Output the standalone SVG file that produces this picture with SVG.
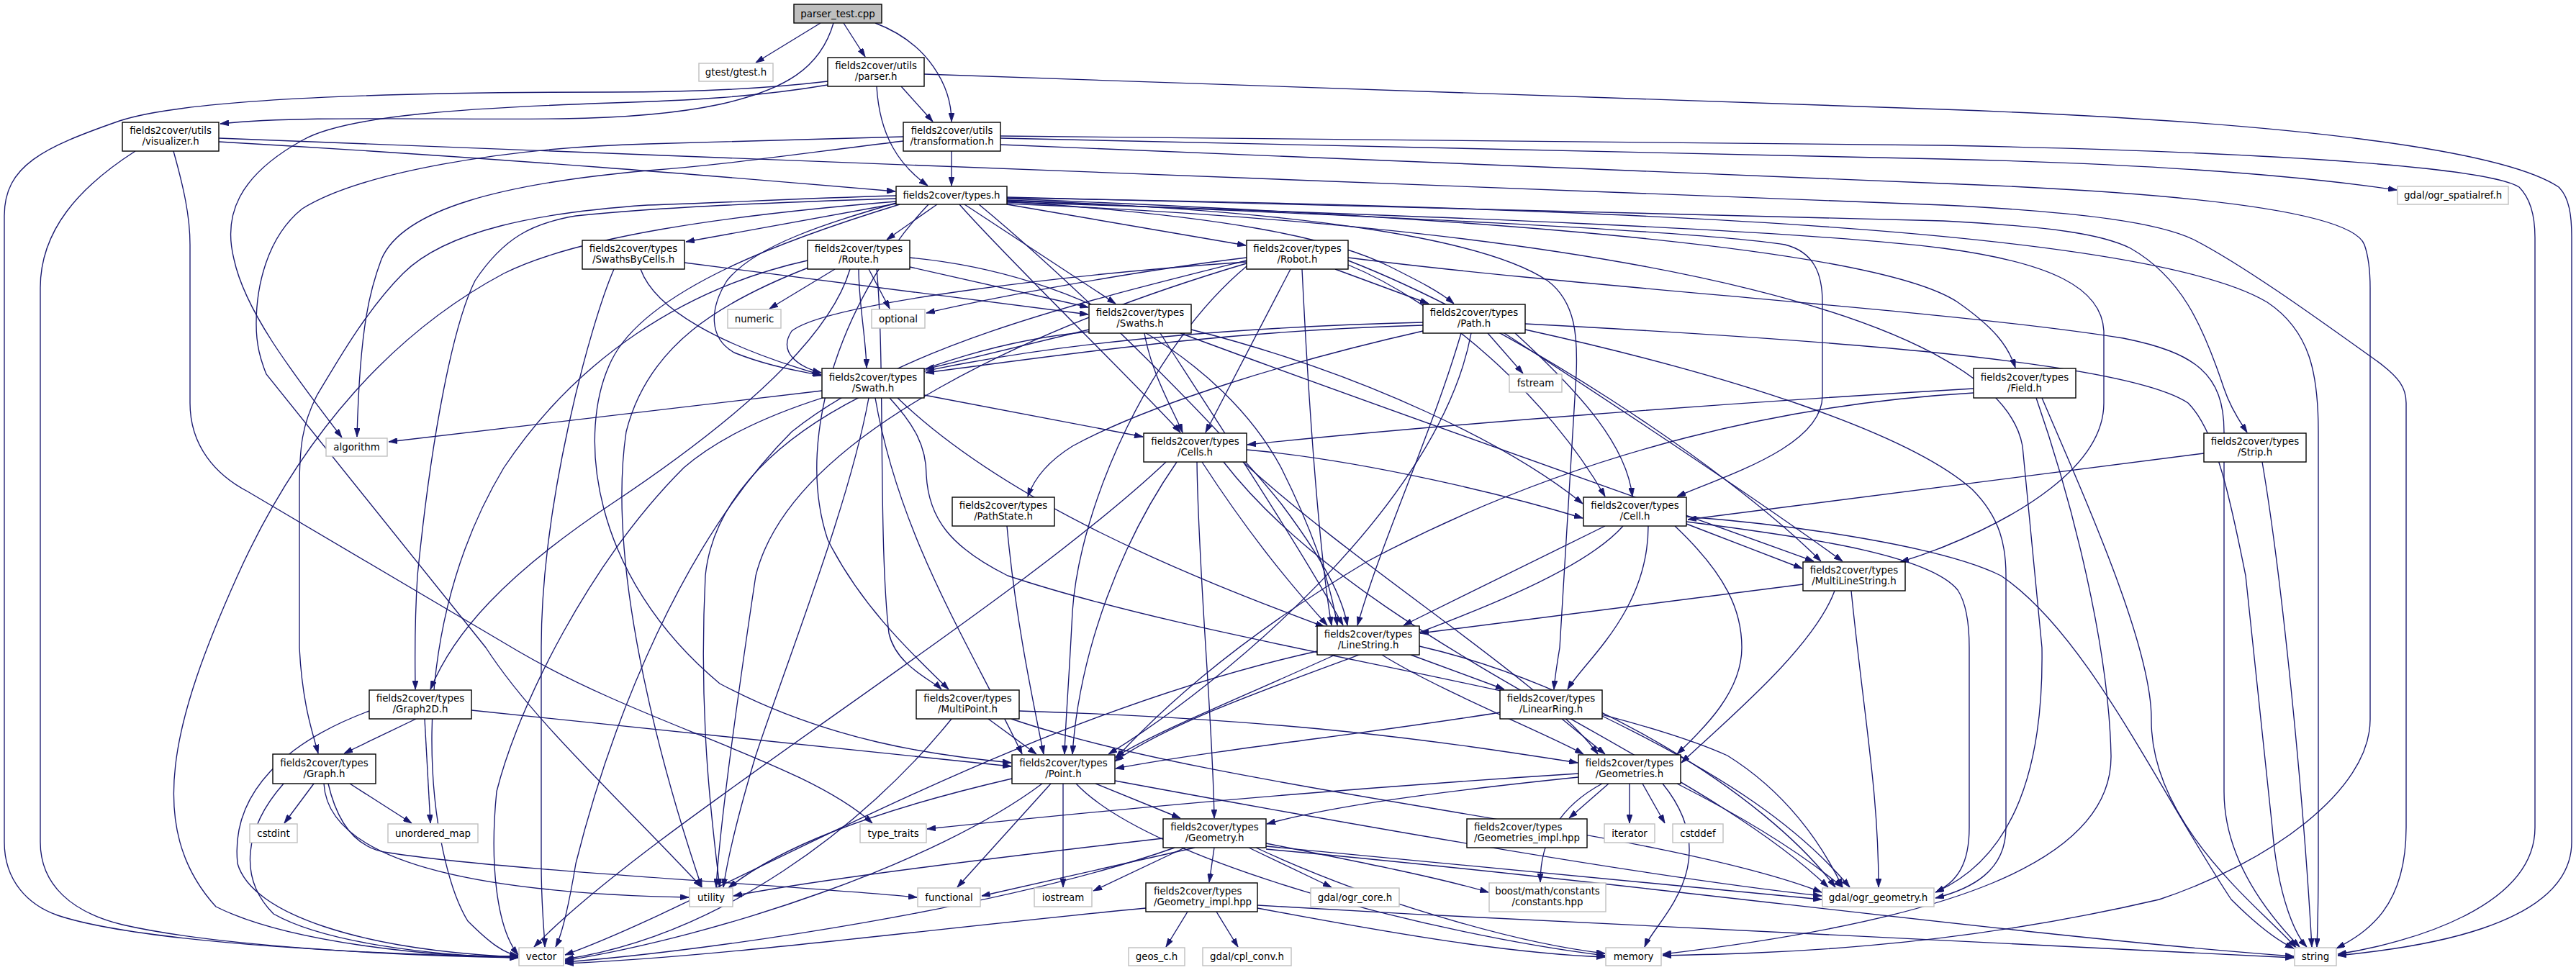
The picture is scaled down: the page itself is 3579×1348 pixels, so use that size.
<svg xmlns="http://www.w3.org/2000/svg" width="3579" height="1348" viewBox="0 0 3579 1348">
<defs>
<marker id="ah" viewBox="0 0 12 8" refX="12" refY="4" markerWidth="12" markerHeight="8" markerUnits="userSpaceOnUse" orient="auto"><path d="M0,0L12,4L0,8z" fill="#191970" stroke="#191970" stroke-width="0.8"/></marker>
</defs>
<style>
.n rect{fill:#fff;stroke:#000;stroke-width:1.4}
.l rect{fill:#fff;stroke:#bfbfbf;stroke-width:1.4}
.r rect{fill:#bfbfbf;stroke:#000;stroke-width:1.4}
text{font-family:"DejaVu Sans","Liberation Sans",sans-serif;font-size:13.33px;fill:#000;text-anchor:middle}
text.lj{text-anchor:start}
.e path{fill:none;stroke:#191970;stroke-width:1.35;marker-end:url(#ah)}
</style>
<rect width="3579" height="1348" fill="#fff"/>
<g id="edges" class="e">
<path d="M1140,32 L1050,87"/>
<path d="M1172,32 L1202,79"/>
<path d="M1216,32 C1290,60 1322,120 1322,169"/>
<path d="M1158,32 C1140,95 1090,125 1000,145 C930,160 850,164 780,165 C600,167 420,160 306,172"/>
<path d="M1252,120 L1296,169"/>
<path d="M1218,120 C1222,190 1250,230 1289,258"/>
<path d="M1150,113 C1050,125 950,128 850,128 C500,128 250,140 166,168 C60,205 6,230 6,300 L6,1170 C6,1225 40,1258 80,1272 C200,1312 550,1328 720,1329"/>
<path d="M1150,118 C1050,135 950,140 850,143 C650,150 480,160 420,195 C330,245 310,300 325,360 C340,430 400,510 475,608"/>
<path d="M1284,103 L2700,152 C3200,170 3480,210 3555,260 C3570,275 3573,300 3573,330 L3573,1170 C3573,1290 3350,1318 3248,1328"/>
<path d="M304,197 C700,220 1000,245 1244,266"/>
<path d="M188,210 C110,260 56,320 56,400 L56,1170 C56,1230 100,1268 170,1285 C300,1315 550,1328 720,1331"/>
<path d="M241,210 C255,260 264,300 264,340 L264,560 C264,620 300,660 344,683 L720,905 C900,1010 1120,1060 1212,1144"/>
<path d="M304,192 L2700,285 C2900,295 3000,310 3048,333 C3120,370 3230,450 3300,500 C3335,525 3343,540 3343,560 L3343,1150 C3343,1260 3290,1295 3246,1318"/>
<path d="M1322,210 L1322,258"/>
<path d="M1390,192 L2700,221 C3000,228 3200,245 3330,264"/>
<path d="M1390,189 L2700,202 C3200,212 3460,235 3500,260 C3515,275 3522,300 3522,330 L3522,1150 C3522,1260 3350,1310 3248,1326"/>
<path d="M1390,201 L2700,255 C3100,270 3270,300 3285,340 C3292,360 3293,380 3293,400 L3293,1000 C3293,1100 3150,1200 3000,1250 C2700,1320 2450,1325 2310,1328"/>
<path d="M1255,196 C1100,215 1000,230 900,237 C700,255 560,290 530,360 C515,400 500,450 496,607"/>
<path d="M1255,190 C1100,194 1000,197 900,200 C700,205 500,240 420,290 C370,330 356,400 356,450 C356,480 362,500 370,520 L675,900 C740,1000 850,1100 975,1233"/>
<path d="M1245,283 L953,336"/>
<path d="M1302,284 L1232,333"/>
<path d="M1399,284 L1731,341"/>
<path d="M1340,284 L1550,422"/>
<path d="M1399,280 C1700,300 1850,330 1930,370 C1970,390 2000,405 2020,422"/>
<path d="M1399,276 C2000,300 2600,340 2720,420 C2770,455 2790,480 2800,511"/>
<path d="M1399,274 C2000,290 2500,300 2700,307 C2850,315 2920,325 2960,345 C3030,385 3060,450 3090,540 C3100,570 3115,590 3122,601"/>
<path d="M1245,282 C1150,310 1050,340 1010,390 C985,430 985,470 1020,490 C1070,510 1110,515 1141,522"/>
<path d="M1333,284 C1390,350 1590,545 1640,601"/>
<path d="M1399,279 C1900,300 2350,320 2480,340 C2520,350 2532,380 2532,420 L2532,550 C2532,620 2400,660 2330,690"/>
<path d="M1399,281 C2000,300 2500,320 2700,345 C2850,365 2920,400 2923,460 L2923,560 C2923,650 2800,720 2700,760 C2670,772 2650,778 2640,781"/>
<path d="M1360,284 C1500,400 1700,600 1780,700 C1840,780 1865,830 1872,869"/>
<path d="M1399,278 C1800,292 2060,330 2150,390 C2190,420 2192,470 2190,520 L2167,900 C2162,930 2160,945 2159,958"/>
<path d="M1290,284 C1180,400 1100,600 1150,750 C1200,850 1280,920 1318,958"/>
<path d="M1250,284 C1100,330 900,400 850,500 C800,600 820,800 1000,950 C1150,1030 1300,1050 1405,1060"/>
<path d="M1245,276 C1050,282 900,289 800,300 C740,310 700,330 660,390 C630,450 600,600 580,800 C575,880 577,930 577,958"/>
<path d="M1245,272 C1100,276 1000,282 900,285 C750,295 620,320 560,380 C510,430 470,500 440,550 C420,590 416,620 416,680 L416,900 C420,980 435,1020 442,1047"/>
<path d="M1245,280 C1000,300 800,330 700,380 C550,460 420,600 330,800 C240,1000 200,1150 300,1260 C400,1310 600,1330 720,1330"/>
<path d="M1399,283 C2300,320 2780,450 2810,620 L2837,900 C2840,1100 2780,1200 2689,1240"/>
<path d="M1399,275 C2400,290 3000,330 3150,420 C3210,460 3221,520 3221,600 L3221,1200 C3221,1260 3220,1290 3219,1316"/>
<path d="M951,365 L1512,437"/>
<path d="M890,374 C910,430 1000,480 1141,521"/>
<path d="M853,374 C820,450 752,700 752,900 L752,1200 C752,1260 756,1290 757,1316"/>
<path d="M1160,374 L1069,429"/>
<path d="M1207,374 L1236,429"/>
<path d="M1264,371 L1512,427"/>
<path d="M1193,374 C1193,420 1203,470 1204,511"/>
<path d="M1181,374 C1150,480 1000,600 850,700 C700,800 630,880 598,958"/>
<path d="M1218,374 C1230,500 1220,750 1235,880 C1245,925 1295,945 1308,958"/>
<path d="M1264,358 C1500,380 1700,500 1780,650 C1830,750 1850,820 1858,869"/>
<path d="M1122,362 C950,400 800,500 700,650 C550,900 600,1200 650,1280 C680,1310 700,1325 720,1328"/>
<path d="M1123,372 C1000,420 900,480 870,600 C840,800 930,1100 975,1233"/>
<path d="M1732,358 C1550,380 1350,420 1287,435"/>
<path d="M1732,362 C1500,420 1250,480 1100,600 C950,750 850,1000 800,1200 C790,1260 780,1300 772,1316"/>
<path d="M1732,366 C1450,450 1100,600 1050,800 C1020,1000 1000,1150 995,1233"/>
<path d="M1732,370 C1600,480 1500,700 1490,850 C1485,950 1480,1010 1479,1048"/>
<path d="M1793,374 L1675,601"/>
<path d="M1855,374 L1985,422"/>
<path d="M1809,374 C1820,600 1835,780 1850,869"/>
<path d="M1873,362 C2100,450 2400,650 2530,780"/>
<path d="M1873,358 C2200,400 2700,430 2950,470 C3050,490 3090,520 3090,600 L3090,1100 C3090,1200 3160,1280 3195,1316"/>
<path d="M1732,364 C1500,380 1150,420 1100,460 C1080,490 1110,510 1141,518"/>
<path d="M1873,368 C2000,420 2150,550 2230,690"/>
<path d="M1513,458 L1286,513"/>
<path d="M1590,463 C1600,520 1630,570 1643,601"/>
<path d="M1612,463 C1700,600 1800,750 1866,869"/>
<path d="M1655,458 C1900,520 2100,620 2199,700"/>
<path d="M1640,463 C1900,560 2300,700 2520,780"/>
<path d="M1513,461 C1300,480 1000,600 980,800 C970,1000 990,1150 1000,1233"/>
<path d="M2067,463 L2116,519"/>
<path d="M1977,452 C1700,460 1500,490 1286,518"/>
<path d="M1977,460 C1800,500 1600,560 1490,620 C1450,645 1435,670 1428,690"/>
<path d="M2030,463 C1990,600 1920,750 1886,869"/>
<path d="M2044,463 C2000,700 1700,950 1540,1048"/>
<path d="M2090,463 C2300,600 2450,700 2560,780"/>
<path d="M2105,463 C2200,550 2260,620 2268,690"/>
<path d="M1977,448 C1500,460 1100,520 950,650 C820,780 720,980 690,1100 C680,1200 690,1290 720,1327"/>
<path d="M2119,450 C2500,470 2950,500 3040,560 C3080,600 3100,700 3120,800 L3157,1150 C3165,1250 3190,1300 3205,1316"/>
<path d="M2119,458 C2400,520 2650,600 2740,680 C2780,720 2787,760 2787,800 L2787,1150 C2787,1210 2740,1235 2689,1248"/>
<path d="M1142,543 L540,614"/>
<path d="M1284,549 L1588,607"/>
<path d="M1207,553 C1180,700 1100,900 1050,1050 C1020,1150 1010,1200 1005,1233"/>
<path d="M1216,553 C1250,750 1350,900 1420,1048"/>
<path d="M1247,553 C1400,700 1650,800 1840,871"/>
<path d="M1236,553 C1270,590 1287,620 1287,660 C1290,720 1320,760 1400,800 C1700,900 2200,960 2400,1050 C2480,1100 2530,1170 2560,1233"/>
<path d="M2742,540 C2400,560 2000,590 1733,618"/>
<path d="M2742,546 C2500,560 2200,620 1900,780 C1700,900 1600,1000 1550,1054"/>
<path d="M2829,553 C2880,700 2930,900 2933,1050 C2935,1200 2700,1280 2310,1326"/>
<path d="M2837,553 C2900,700 2990,900 2989,1000 C2988,1150 3150,1270 3190,1317"/>
<path d="M3062,630 L2345,722"/>
<path d="M3143,642 C3170,800 3200,1100 3212,1316"/>
<path d="M1620,642 C1400,850 900,1150 742,1316"/>
<path d="M1635,642 C1560,750 1500,900 1490,1048"/>
<path d="M1663,642 C1665,800 1685,1000 1687,1137"/>
<path d="M1670,642 C1740,750 1800,820 1844,869"/>
<path d="M1732,625 C1900,640 2100,690 2199,720"/>
<path d="M1727,642 C1900,800 2150,950 2220,1048"/>
<path d="M1700,642 C1900,900 2350,1050 2540,1233"/>
<path d="M1399,731 C1410,850 1430,950 1450,1048"/>
<path d="M2230,731 L1950,869"/>
<path d="M2255,731 C2150,850 1700,950 1549,1058"/>
<path d="M2290,731 C2290,850 2200,920 2178,958"/>
<path d="M2327,731 C2400,800 2420,850 2420,900 C2420,960 2370,1010 2330,1048"/>
<path d="M2343,728 L2504,790"/>
<path d="M2343,725 C2500,745 2680,770 2720,820 C2733,840 2736,870 2736,900 L2736,1150 C2736,1200 2720,1225 2689,1240"/>
<path d="M2343,718 C2500,730 2700,760 2780,800 C2900,880 3000,1100 3100,1250 C3140,1290 3170,1310 3187,1318"/>
<path d="M2505,812 L1973,880"/>
<path d="M2549,821 C2520,900 2400,1000 2336,1060"/>
<path d="M2572,821 C2590,1000 2610,1100 2610,1233"/>
<path d="M1830,905 C1400,1000 1000,1250 785,1327"/>
<path d="M1855,910 C1700,980 1600,1020 1550,1052"/>
<path d="M1920,910 C2000,960 2150,1020 2200,1048"/>
<path d="M1960,910 L2090,958"/>
<path d="M1972,898 C2200,950 2450,1100 2550,1233"/>
<path d="M2084,990 C1900,1020 1700,1040 1550,1068"/>
<path d="M2170,999 L2230,1048"/>
<path d="M2226,995 C2400,1080 2500,1150 2570,1233"/>
<path d="M578,999 L478,1047"/>
<path d="M590,999 L598,1144"/>
<path d="M513,988 C400,1030 320,1100 330,1200 C350,1270 500,1320 720,1330"/>
<path d="M655,987 L1405,1065"/>
<path d="M436,1089 L395,1144"/>
<path d="M486,1089 L572,1144"/>
<path d="M394,1089 C340,1150 330,1220 380,1270 C450,1310 600,1328 720,1331"/>
<path d="M450,1089 C455,1180 600,1240 957,1247"/>
<path d="M456,1089 C470,1150 500,1180 540,1185 C700,1210 1100,1230 1274,1247"/>
<path d="M1322,999 C1200,1150 1000,1300 785,1333"/>
<path d="M1373,999 L1440,1048"/>
<path d="M1416,988 C1800,1000 2000,1030 2192,1060"/>
<path d="M1405,999 C1700,1100 2300,1150 2531,1240"/>
<path d="M1448,1089 C1300,1200 1000,1300 785,1335"/>
<path d="M1460,1089 L1330,1233"/>
<path d="M1477,1089 L1477,1233"/>
<path d="M1495,1089 C1600,1200 2000,1300 2230,1328"/>
<path d="M1522,1089 L1640,1137"/>
<path d="M1406,1082 C1200,1130 1080,1180 1012,1234"/>
<path d="M1549,1085 C1900,1150 2300,1220 2531,1245"/>
<path d="M2193,1080 C2000,1100 1850,1120 1760,1145"/>
<path d="M2193,1075 C1800,1100 1500,1130 1288,1152"/>
<path d="M2235,1089 L2180,1137"/>
<path d="M2264,1089 L2264,1144"/>
<path d="M2282,1089 L2313,1144"/>
<path d="M2310,1089 C2400,1200 2300,1280 2285,1316"/>
<path d="M2330,1089 C2450,1150 2520,1200 2560,1233"/>
<path d="M2226,1089 C2150,1130 2140,1190 2140,1226"/>
<path d="M1616,1165 C1400,1190 1150,1220 1019,1245"/>
<path d="M1660,1178 L1364,1245"/>
<path d="M1646,1178 L1519,1238"/>
<path d="M1632,1178 C1400,1260 1000,1320 785,1337"/>
<path d="M1687,1178 L1680,1226"/>
<path d="M1735,1178 L1850,1233"/>
<path d="M1745,1178 C1900,1250 2100,1310 2230,1325"/>
<path d="M1759,1172 C1900,1200 2000,1220 2068,1240"/>
<path d="M1759,1176 C2100,1210 2350,1235 2531,1250"/>
<path d="M1759,1180 C2300,1230 2800,1300 3187,1329"/>
<path d="M1592,1262 C1300,1290 1000,1330 785,1339"/>
<path d="M1747,1258 C2300,1290 2900,1320 3187,1331"/>
<path d="M1747,1262 C1950,1300 2100,1325 2230,1330"/>
<path d="M1650,1267 L1620,1316"/>
<path d="M1690,1267 L1720,1316"/>
</g>
<g id="n_parser_test" class="r"><rect x="1103" y="6" width="122" height="26"/><text x="1164" y="23.5">parser_test.cpp</text></g>
<g id="n_gtest" class="l"><rect x="971" y="88" width="103" height="25"/><text x="1022.5" y="105">gtest/gtest.h</text></g>
<g id="n_parser" class="n"><rect x="1150" y="80" width="134" height="40"/><text x="1217" y="96">fields2cover/utils</text><text x="1217" y="111">/parser.h</text></g>
<g id="n_visualizer" class="n"><rect x="170" y="170" width="134" height="40"/><text x="237" y="186">fields2cover/utils</text><text x="237" y="201">/visualizer.h</text></g>
<g id="n_transformation" class="n"><rect x="1255" y="170" width="135" height="40"/><text x="1322.5" y="186">fields2cover/utils</text><text x="1322.5" y="201">/transformation.h</text></g>
<g id="n_types" class="n"><rect x="1245" y="259" width="154" height="25"/><text x="1322" y="276">fields2cover/types.h</text></g>
<g id="n_ogr_spatialref" class="l"><rect x="3331" y="259" width="154" height="25"/><text x="3408" y="276">gdal/ogr_spatialref.h</text></g>
<g id="n_swathsbycells" class="n"><rect x="809" y="334" width="142" height="40"/><text x="880" y="350">fields2cover/types</text><text x="880" y="365">/SwathsByCells.h</text></g>
<g id="n_route" class="n"><rect x="1122" y="334" width="142" height="40"/><text x="1193" y="350">fields2cover/types</text><text x="1193" y="365">/Route.h</text></g>
<g id="n_robot" class="n"><rect x="1732" y="334" width="141" height="40"/><text x="1802.5" y="350">fields2cover/types</text><text x="1802.5" y="365">/Robot.h</text></g>
<g id="n_numeric" class="l"><rect x="1011" y="430" width="74" height="26"/><text x="1048" y="447.5">numeric</text></g>
<g id="n_optional" class="l"><rect x="1211" y="430" width="74" height="26"/><text x="1248" y="447.5">optional</text></g>
<g id="n_swaths" class="n"><rect x="1513" y="423" width="142" height="40"/><text x="1584" y="439">fields2cover/types</text><text x="1584" y="454">/Swaths.h</text></g>
<g id="n_path" class="n"><rect x="1977" y="423" width="142" height="40"/><text x="2048" y="439">fields2cover/types</text><text x="2048" y="454">/Path.h</text></g>
<g id="n_algorithm" class="l"><rect x="453" y="609" width="85" height="25"/><text x="495.5" y="626">algorithm</text></g>
<g id="n_swath" class="n"><rect x="1142" y="512" width="142" height="41"/><text x="1213" y="528.5">fields2cover/types</text><text x="1213" y="543.5">/Swath.h</text></g>
<g id="n_field" class="n"><rect x="2742" y="512" width="142" height="41"/><text x="2813" y="528.5">fields2cover/types</text><text x="2813" y="543.5">/Field.h</text></g>
<g id="n_fstream" class="l"><rect x="2097" y="520" width="73" height="25"/><text x="2133.5" y="537">fstream</text></g>
<g id="n_cells" class="n"><rect x="1589" y="602" width="143" height="40"/><text x="1660.5" y="618">fields2cover/types</text><text x="1660.5" y="633">/Cells.h</text></g>
<g id="n_strip" class="n"><rect x="3062" y="602" width="142" height="40"/><text x="3133" y="618">fields2cover/types</text><text x="3133" y="633">/Strip.h</text></g>
<g id="n_pathstate" class="n"><rect x="1323" y="691" width="142" height="40"/><text x="1394" y="707">fields2cover/types</text><text x="1394" y="722">/PathState.h</text></g>
<g id="n_cell" class="n"><rect x="2200" y="691" width="143" height="40"/><text x="2271.5" y="707">fields2cover/types</text><text x="2271.5" y="722">/Cell.h</text></g>
<g id="n_multilinestring" class="n"><rect x="2505" y="781" width="142" height="40"/><text x="2576" y="797">fields2cover/types</text><text x="2576" y="812">/MultiLineString.h</text></g>
<g id="n_linestring" class="n"><rect x="1830" y="870" width="142" height="40"/><text x="1901" y="886">fields2cover/types</text><text x="1901" y="901">/LineString.h</text></g>
<g id="n_graph2d" class="n"><rect x="513" y="959" width="142" height="40"/><text x="584" y="975">fields2cover/types</text><text x="584" y="990">/Graph2D.h</text></g>
<g id="n_multipoint" class="n"><rect x="1273" y="959" width="143" height="40"/><text x="1344.5" y="975">fields2cover/types</text><text x="1344.5" y="990">/MultiPoint.h</text></g>
<g id="n_linearring" class="n"><rect x="2084" y="959" width="142" height="40"/><text x="2155" y="975">fields2cover/types</text><text x="2155" y="990">/LinearRing.h</text></g>
<g id="n_graph" class="n"><rect x="379" y="1048" width="143" height="41"/><text x="450.5" y="1064.5">fields2cover/types</text><text x="450.5" y="1079.5">/Graph.h</text></g>
<g id="n_point" class="n"><rect x="1406" y="1049" width="143" height="40"/><text x="1477.5" y="1065">fields2cover/types</text><text x="1477.5" y="1080">/Point.h</text></g>
<g id="n_geometries" class="n"><rect x="2193" y="1049" width="142" height="40"/><text x="2264" y="1065">fields2cover/types</text><text x="2264" y="1080">/Geometries.h</text></g>
<g id="n_cstdint" class="l"><rect x="347" y="1145" width="66" height="26"/><text x="380" y="1162.5">cstdint</text></g>
<g id="n_unordered_map" class="l"><rect x="539" y="1145" width="125" height="26"/><text x="601.5" y="1162.5">unordered_map</text></g>
<g id="n_type_traits" class="l"><rect x="1195" y="1145" width="92" height="26"/><text x="1241" y="1162.5">type_traits</text></g>
<g id="n_geometry" class="n"><rect x="1616" y="1138" width="143" height="40"/><text x="1687.5" y="1154">fields2cover/types</text><text x="1687.5" y="1169">/Geometry.h</text></g>
<g id="n_geometries_impl" class="n"><rect x="2038" y="1138" width="167" height="40"/><text class="lj" x="2048" y="1154">fields2cover/types</text><text class="lj" x="2048" y="1169">/Geometries_impl.hpp</text></g>
<g id="n_iterator" class="l"><rect x="2229" y="1145" width="70" height="26"/><text x="2264" y="1162.5">iterator</text></g>
<g id="n_cstddef" class="l"><rect x="2324" y="1145" width="70" height="26"/><text x="2359" y="1162.5">cstddef</text></g>
<g id="n_utility" class="l"><rect x="958" y="1234" width="60" height="26"/><text x="988" y="1251.5">utility</text></g>
<g id="n_functional" class="l"><rect x="1275" y="1234" width="87" height="26"/><text x="1318.5" y="1251.5">functional</text></g>
<g id="n_iostream" class="l"><rect x="1437" y="1234" width="80" height="26"/><text x="1477" y="1251.5">iostream</text></g>
<g id="n_geometry_impl" class="n"><rect x="1592" y="1227" width="155" height="40"/><text class="lj" x="1603" y="1243">fields2cover/types</text><text class="lj" x="1603" y="1258">/Geometry_impl.hpp</text></g>
<g id="n_ogr_core" class="l"><rect x="1821" y="1234" width="123" height="26"/><text x="1882.5" y="1251.5">gdal/ogr_core.h</text></g>
<g id="n_boost" class="l"><rect x="2069" y="1227" width="162" height="40"/><text x="2150" y="1243">boost/math/constants</text><text x="2150" y="1258">/constants.hpp</text></g>
<g id="n_ogr_geometry" class="l"><rect x="2532" y="1234" width="155" height="26"/><text x="2609.5" y="1251.5">gdal/ogr_geometry.h</text></g>
<g id="n_vector" class="l"><rect x="721" y="1317" width="62" height="25"/><text x="752" y="1334">vector</text></g>
<g id="n_memory" class="l"><rect x="2231" y="1317" width="77" height="25"/><text x="2269.5" y="1334">memory</text></g>
<g id="n_string" class="l"><rect x="3188" y="1317" width="58" height="25"/><text x="3217" y="1334">string</text></g>
<g id="n_geos_c" class="l"><rect x="1568" y="1317" width="78" height="25"/><text x="1607" y="1334">geos_c.h</text></g>
<g id="n_cpl_conv" class="l"><rect x="1671" y="1317" width="123" height="25"/><text x="1732.5" y="1334">gdal/cpl_conv.h</text></g>
</svg>
